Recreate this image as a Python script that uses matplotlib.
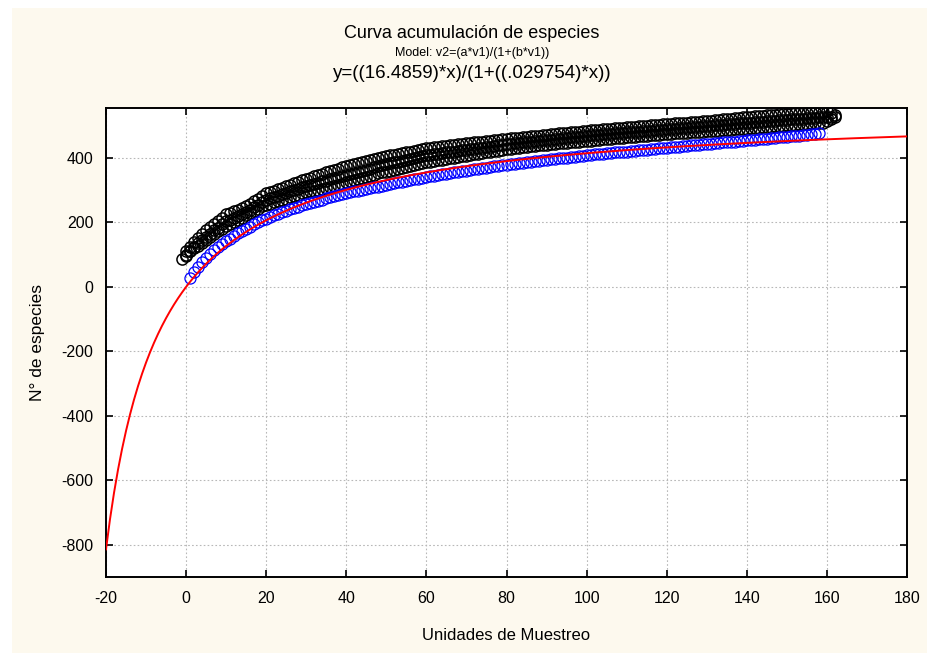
import numpy as np
import matplotlib
matplotlib.use("Agg")
import matplotlib.pyplot as plt
from matplotlib.patches import Rectangle

plt.rcParams['font.family'] = ['Liberation Sans', 'DejaVu Sans']
plt.rcParams['axes.unicode_minus'] = False

# ---------------- data ----------------
title = "Curva acumulación de especies"
subtitle = "Model: v2=(a*v1)/(1+(b*v1))"
equation = "y=((16.4859)*x)/(1+((.029754)*x))"
xlabel = "Unidades de Muestreo"
ylabel = "N° de especies"

# fitted model parameters (from the chart's equation)
param_a = 16.4859
param_b = 0.029754
fit_x = np.arange(-20, 181, 1)

xticks = [-20, 0, 20, 40, 60, 80, 100, 120, 140, 160, 180]
yticks = [-800, -600, -400, -200, 0, 200, 400]

# observed accumulation (blue), x = 1..158
blue_x = np.arange(1, 159)
blue_y = [29, 47, 63, 77, 90, 102, 113, 123, 132, 141,
          150, 158, 166, 173, 180, 187, 194, 200, 206, 212,
          217, 222, 227, 232, 237, 241, 245, 249, 253, 257,
          261, 264, 268, 271, 275, 278, 281, 284, 287, 290,
          293, 296, 298, 301, 304, 306, 309, 311, 314, 316,
          319, 321, 324, 326, 329, 331, 334, 336, 339, 341,
          343, 345, 347, 349, 351, 353, 355, 357, 359, 361,
          363, 365, 367, 368, 370, 372, 374, 375, 377, 379,
          380, 382, 384, 385, 387, 388, 390, 391, 393, 394,
          396, 397, 399, 400, 401, 403, 404, 405, 407, 408,
          409, 411, 412, 413, 414, 416, 417, 418, 419, 420,
          422, 423, 424, 425, 426, 427, 428, 430, 431, 432,
          433, 434, 435, 436, 437, 439, 440, 441, 442, 443,
          444, 445, 446, 448, 449, 450, 451, 452, 453, 455,
          456, 457, 458, 459, 460, 461, 462, 464, 465, 466,
          467, 468, 469, 470, 472, 473, 475, 477]

# estimator series (black circles)
black_low_x = np.arange(-1, 162)
black_low_y = [88, 98, 110, 120, 128, 135, 145, 155, 163, 172, 180,
               188, 195, 202, 208, 215, 222, 229, 236, 243, 250,
               254, 258, 262, 266, 270, 274, 278, 282, 286, 290,
               293, 296, 299, 302, 305, 308, 311, 314, 317, 320,
               324, 327, 331, 334, 338, 341, 345, 348, 352, 355,
               358, 361, 364, 367, 370, 373, 376, 379, 382, 385,
               387, 389, 391, 393, 395, 397, 399, 401, 403, 405,
               407, 409, 411, 413, 415, 417, 419, 421, 423, 425,
               427, 428, 430, 431, 433, 434, 436, 437, 439, 440,
               441, 443, 444, 445, 446, 447, 449, 450, 451, 452,
               453, 454, 455, 456, 458, 459, 460, 461, 462, 463,
               464, 465, 466, 467, 468, 469, 470, 471, 472, 473,
               474, 475, 476, 477, 478, 478, 479, 480, 481, 482,
               483, 484, 485, 485, 486, 487, 488, 489, 489, 490,
               491, 492, 493, 494, 495, 496, 497, 498, 499, 500,
               501, 502, 503, 504, 505, 506, 507, 508, 509, 510,
               514, 520]

black_mid_x = np.arange(0, 163)
black_mid_y = [97, 112, 125, 136, 146, 155, 165, 175, 184, 194, 203,
               209, 215, 221, 227, 233, 240, 248, 255, 263, 270,
               275, 279, 283, 287, 292, 296, 300, 304, 309, 313,
               316, 320, 323, 327, 330, 334, 337, 341, 344, 348,
               351, 354, 358, 361, 364, 367, 371, 374, 377, 380,
               383, 386, 389, 391, 394, 397, 400, 402, 405, 408,
               410, 411, 413, 415, 417, 418, 420, 422, 424, 425,
               427, 429, 430, 432, 434, 435, 437, 439, 441, 443,
               444, 445, 447, 448, 450, 451, 452, 453, 455, 456,
               457, 459, 460, 461, 462, 464, 465, 466, 468, 469,
               470, 471, 472, 473, 474, 475, 476, 477, 478, 479,
               480, 481, 482, 483, 484, 485, 486, 487, 488, 489,
               490, 491, 492, 493, 494, 495, 496, 497, 498, 499,
               500, 501, 502, 503, 504, 505, 506, 507, 508, 509,
               510, 511, 512, 513, 514, 515, 516, 517, 518, 519,
               520, 521, 522, 522, 523, 524, 525, 526, 527, 528,
               527, 528]

black_high_x = np.arange(0, 163)
black_high_y = [110, 125, 140, 152, 163, 175, 185, 195, 205, 215, 225,
                230, 235, 240, 245, 250, 258, 266, 274, 282, 290,
                295, 299, 304, 308, 313, 317, 322, 326, 331, 335,
                339, 343, 347, 351, 355, 359, 363, 367, 371, 375,
                378, 381, 384, 387, 390, 393, 396, 399, 402, 405,
                408, 410, 413, 415, 418, 420, 423, 425, 428, 430,
                432, 433, 435, 436, 438, 439, 441, 442, 444, 445,
                447, 448, 449, 451, 452, 453, 455, 456, 458, 460,
                461, 462, 463, 465, 466, 467, 468, 469, 471, 472,
                473, 474, 476, 477, 478, 480, 481, 482, 484, 485,
                486, 487, 488, 489, 490, 491, 492, 493, 494, 495,
                496, 497, 498, 499, 500, 501, 502, 503, 504, 505,
                506, 507, 508, 509, 510, 511, 512, 513, 514, 515,
                516, 517, 518, 520, 521, 522, 523, 524, 526, 527,
                528, 529, 530, 531, 532, 533, 534, 535, 536, 537,
                538, 539, 540, 540, 541, 542, 543, 543, 544, 545,
                538, 532]

# ---------------- figure ----------------
W, H = 927, 653
fig = plt.figure(figsize=(W / 100, H / 100), dpi=100, facecolor='white')
cream = '#FDF9EE'
fig.patches.append(Rectangle((12 / W, 0), (W - 12) / W, (H - 8) / H,
                             transform=fig.transFigure, facecolor=cream,
                             edgecolor='none', zorder=-10))

ax = fig.add_axes([106 / W, 1 - 577 / H, 801 / W, (577 - 108) / H])
ax.set_facecolor('white')

mk = dict(marker='o', linestyle='none', markersize=8.0, markerfacecolor='none')
for bx, by in [(black_low_x, black_low_y), (black_mid_x, black_mid_y),
               (black_high_x, black_high_y)]:
    ax.plot(bx, by, markeredgecolor='black', markeredgewidth=1.1, zorder=3, **mk)
ax.plot(blue_x, blue_y, markeredgecolor='#0000FF', markeredgewidth=0.9,
        zorder=4, **mk)

fit_y = param_a * fit_x / (1 + param_b * fit_x)
ax.plot(fit_x, fit_y, color='#FF0000', linewidth=1.4, zorder=5)

ax.set_xlim(-20, 180)
ax.set_ylim(-900, 555)
ax.set_xticks(xticks)
ax.set_yticks(yticks)
ax.grid(True, color='#b8b8b8', linestyle=(0, (1.5, 2)), linewidth=0.8)
ax.set_axisbelow(True)
ax.tick_params(direction='in', length=5, width=1.2, top=True, right=True,
               labelsize=11.5, colors='black')
ax.tick_params(axis='x', pad=10)
ax.tick_params(axis='y', pad=9)
for s in ax.spines.values():
    s.set_linewidth(1.4)
    s.set_color('black')

ax.set_xlabel(xlabel, fontsize=12, labelpad=16)
ax.set_ylabel(ylabel, fontsize=12.5, labelpad=12)

cx = 472 / W
fig.text(cx, 1 - 34 / H, title, ha='center', va='center', fontsize=13)
fig.text(cx, 1 - 53 / H, subtitle, ha='center', va='center', fontsize=9)
fig.text(cx, 1 - 73 / H, equation, ha='center', va='center', fontsize=13.5)

fig.savefig('out.png', dpi=100, facecolor=fig.get_facecolor())
